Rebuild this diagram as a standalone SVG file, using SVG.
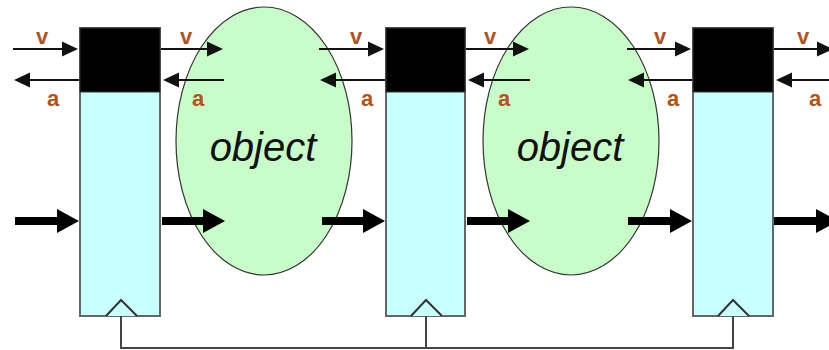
<svg xmlns="http://www.w3.org/2000/svg" width="829" height="350" viewBox="0 0 829 350">
<style>
.obj{fill:#c8fcc8;stroke:#333;stroke-width:1.2}
.objt{font-family:"Liberation Sans",Arial,sans-serif;font-style:italic;font-size:40px;fill:#111;text-anchor:middle}
.reg{fill:#c8ffff;stroke:#666;stroke-width:2}
.top{fill:#000;stroke:#333;stroke-width:1}
.clk{fill:#c8ffff;stroke:#333;stroke-width:2}
.thin{stroke:#111;stroke-width:2.2;fill:none}
.thick{stroke:#000;stroke-width:8;fill:none}
.wire{stroke:#444;stroke-width:2;fill:none}
.lbl{font-family:"Liberation Sans",Arial,sans-serif;font-weight:bold;font-size:22px;fill:#b5521b;text-anchor:middle}
</style>
<defs>
<marker id="ah" markerUnits="userSpaceOnUse" markerWidth="17" markerHeight="16" refX="1" refY="8" orient="auto" overflow="visible">
<path d="M0,0.5 L16,8 L0,15.5 z" fill="#111"/>
</marker>
<marker id="ahb" markerUnits="userSpaceOnUse" markerWidth="24" markerHeight="24" refX="1" refY="12" orient="auto" overflow="visible">
<path d="M0,0 L22,12 L0,24 z" fill="#000"/>
</marker>
</defs>
<g id="object1"><ellipse class="obj" cx="264" cy="141" rx="88" ry="134"/><text class="objt" x="263" y="161">object</text></g>
<g id="object2"><ellipse class="obj" cx="571" cy="141" rx="88" ry="134"/><text class="objt" x="570" y="161">object</text></g>
<g id="reg1"><rect class="reg" x="80" y="28" width="80" height="288"/><rect class="top" x="80" y="28" width="80" height="64"/><polyline class="clk" points="106,316 121,300 137,316"/></g>
<g id="reg2"><rect class="reg" x="386" y="28" width="79" height="288"/><rect class="top" x="386" y="28" width="79" height="64"/><polyline class="clk" points="411,316 426,300 442,316"/></g>
<g id="reg3"><rect class="reg" x="693" y="28" width="80" height="288"/><rect class="top" x="693" y="28" width="80" height="64"/><polyline class="clk" points="718,316 733,300 749,316"/></g>
<g id="connectors">
<path class="wire" d="M121,316 V348 H733 V316 M426,316 V348"/>
<line class="thin" x1="13" y1="49" x2="63" y2="49" marker-end="url(#ah)"/>
<line class="thin" x1="161" y1="49" x2="208" y2="49" marker-end="url(#ah)"/>
<line class="thin" x1="319" y1="49" x2="369" y2="49" marker-end="url(#ah)"/>
<line class="thin" x1="466" y1="49" x2="514" y2="49" marker-end="url(#ah)"/>
<line class="thin" x1="627" y1="49" x2="676" y2="49" marker-end="url(#ah)"/>
<line class="thin" x1="774" y1="49" x2="818" y2="49" marker-end="url(#ah)"/>
<line class="thin" x1="79" y1="80" x2="29" y2="80" marker-end="url(#ah)"/>
<line class="thin" x1="224" y1="80" x2="178" y2="80" marker-end="url(#ah)"/>
<line class="thin" x1="385" y1="80" x2="335" y2="80" marker-end="url(#ah)"/>
<line class="thin" x1="530" y1="80" x2="483" y2="80" marker-end="url(#ah)"/>
<line class="thin" x1="692" y1="80" x2="643" y2="80" marker-end="url(#ah)"/>
<line class="thin" x1="829" y1="80" x2="791" y2="80" marker-end="url(#ah)"/>
<line class="thick" x1="15" y1="221" x2="58" y2="221" marker-end="url(#ahb)"/>
<line class="thick" x1="162" y1="221" x2="204" y2="221" marker-end="url(#ahb)"/>
<line class="thick" x1="322" y1="221" x2="364" y2="221" marker-end="url(#ahb)"/>
<line class="thick" x1="467" y1="221" x2="509" y2="221" marker-end="url(#ahb)"/>
<line class="thick" x1="628" y1="221" x2="671" y2="221" marker-end="url(#ahb)"/>
<line class="thick" x1="774" y1="221" x2="817" y2="221" marker-end="url(#ahb)"/>
</g>
<g id="labels">
<text class="lbl" x="42" y="44">v</text>
<text class="lbl" x="186" y="44">v</text>
<text class="lbl" x="356" y="44">v</text>
<text class="lbl" x="490" y="44">v</text>
<text class="lbl" x="660" y="44">v</text>
<text class="lbl" x="803" y="44">v</text>
<text class="lbl" x="53" y="106">a</text>
<text class="lbl" x="198" y="106">a</text>
<text class="lbl" x="367" y="106">a</text>
<text class="lbl" x="504" y="106">a</text>
<text class="lbl" x="673" y="106">a</text>
<text class="lbl" x="815" y="106">a</text>
</g>
</svg>
